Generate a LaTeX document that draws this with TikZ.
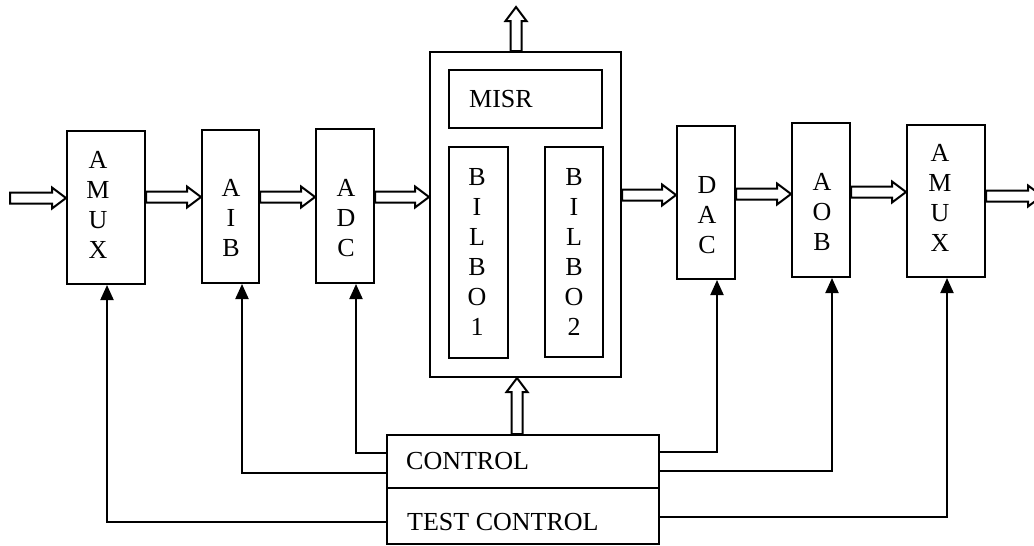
\documentclass[tikz,border=0pt]{standalone}
\usepackage{fontspec}
\setmainfont{Liberation Serif}
\usetikzlibrary{calc,arrows.meta}
\begin{document}
\begin{tikzpicture}[x=1pt,y=-1pt,
  blk/.style={draw, line width=2pt, inner sep=0pt},
  lbl/.style={font=\fontsize{26}{30}\selectfont, align=center, inner sep=0pt},
  txt/.style={font=\fontsize{26}{30}\selectfont, inner sep=0pt, anchor=west},
  hollow/.style={line width=2pt, line join=miter, to path={
    ($(\tikztotarget)!14pt!(\tikztostart)$) coordinate (hb)
    ($(\tikztostart)!5.5pt!90:(\tikztotarget)$) --
    ($(hb)!5.5pt!-90:(\tikztostart)$) --
    ($(hb)!10.5pt!-90:(\tikztostart)$) --
    (\tikztotarget) --
    ($(hb)!10.5pt!90:(\tikztostart)$) --
    ($(hb)!5.5pt!90:(\tikztostart)$) --
    ($(\tikztostart)!5.5pt!-90:(\tikztotarget)$) -- cycle}},
  ctrl/.style={line width=2pt, -{Triangle[length=15pt,width=13pt]}}]
\useasboundingbox (0,0) rectangle (1034,546);

% blocks
\node[blk, minimum width=78, minimum height=153] (amux1) at (106,207.5) {};
\node[blk, minimum width=57, minimum height=153] (aib) at (230.5,206.5) {};
\node[blk, minimum width=58, minimum height=154] (adc) at (345,206) {};
\node[blk, minimum width=191, minimum height=325] (big) at (525.5,214.5) {};
\node[blk, minimum width=153, minimum height=58] (misr) at (525.5,99) {};
\node[blk, minimum width=59, minimum height=211] (bilbo1) at (478.5,252.5) {};
\node[blk, minimum width=58, minimum height=210] (bilbo2) at (574,252) {};
\node[blk, minimum width=58, minimum height=153] (dac) at (706,202.5) {};
\node[blk, minimum width=58, minimum height=154] (aob) at (821,200) {};
\node[blk, minimum width=78, minimum height=152] (amux2) at (946,201) {};
\node[blk, minimum width=272, minimum height=53] (ctrlA) at (523,461.5) {};
\node[blk, minimum width=272, minimum height=56] (ctrlB) at (523,516) {};

% labels
\node[lbl] (t1) at (98,205) {A\\M\\U\\X};
\node[lbl] (t2) at (231,218) {A\\I\\B};
\node[lbl] (t3) at (346,218) {A\\D\\C};
\node[txt] (t4) at (469,99) {MISR};
\node[lbl] (t5) at (477,252) {B\\I\\L\\B\\O\\1};
\node[lbl] (t6) at (574,252) {B\\I\\L\\B\\O\\2};
\node[lbl] (t7) at (707,215) {D\\A\\C};
\node[lbl] (t8) at (822,212) {A\\O\\B};
\node[lbl] (t9) at (940,198) {A\\M\\U\\X};
\node[txt] (t10) at (406,461) {CONTROL};
\node[txt] (t11) at (407,522) {TEST CONTROL};

% free ends
\coordinate (inL) at (10,198);
\coordinate (outR) at (1042,196);
\coordinate (topT) at (516,7);

% data (hollow) arrows
\draw[hollow] (inL) to (amux1.west |- inL);
\draw[hollow] (amux1.east |- 0,197) to (aib.west |- 0,197);
\draw[hollow] (aib.east |- 0,197) to (adc.west |- 0,197);
\draw[hollow] (adc.east |- 0,197) to (big.west |- 0,197);
\draw[hollow] (big.east |- 0,195) to (dac.west |- 0,195);
\draw[hollow] (dac.east |- 0,194) to (aob.west |- 0,194);
\draw[hollow] (aob.east |- 0,192) to (amux2.west |- 0,192);
\draw[hollow] (amux2.east |- outR) to (outR);
\draw[hollow] (big.north -| topT) to (topT);
\draw[hollow] (ctrlA.north -| 517,0) to (big.south -| 517,0);

% control lines
\draw[ctrl] (ctrlB.west |- 0,522) -| ([xshift=1pt]amux1.south);
\draw[ctrl] (ctrlA.west |- 0,473) -| ([xshift=11.5pt]aib.south);
\draw[ctrl] (ctrlA.west |- 0,453) -| ([xshift=11pt]adc.south);
\draw[ctrl] (ctrlA.east |- 0,452) -| ([xshift=11pt]dac.south);
\draw[ctrl] (ctrlA.east |- 0,471) -| ([xshift=11pt]aob.south);
\draw[ctrl] (ctrlB.east |- 0,517) -| ([xshift=1pt]amux2.south);
\end{tikzpicture}
\end{document}
